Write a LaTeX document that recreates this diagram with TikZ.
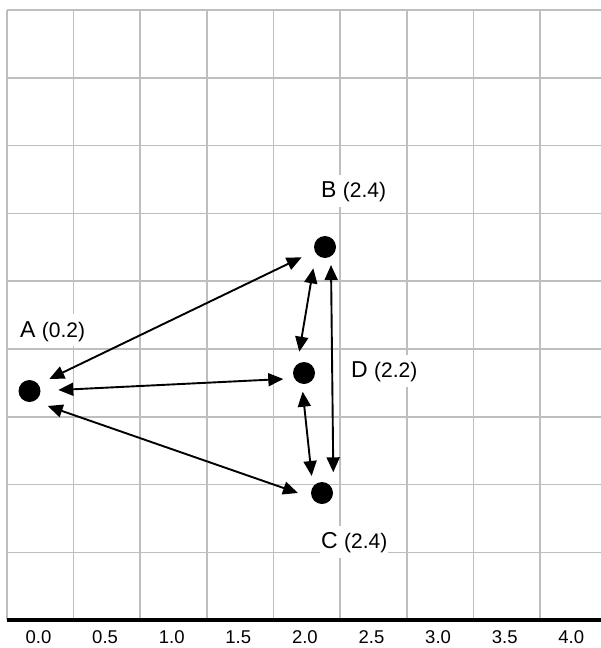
\documentclass[tikz,border=0pt]{standalone}
\usepackage{fontspec}
\setmainfont{Liberation Sans}
\usetikzlibrary{arrows.meta,calc}
\definecolor{gridgray}{RGB}{190,190,190}
\newcommand{\ptlabel}[2]{{\fontsize{23}{25}\selectfont #1\ }{\fontsize{21}{23}\selectfont (#2)}}
\tikzset{
  gridline/.style={draw=gridgray, line width=1.7pt},
  axisline/.style={draw=black, line width=3.5pt},
  dot/.style={circle, fill=black, inner sep=0pt, minimum size=22pt},
  lbl/.style={fill=white, inner xsep=1pt, inner ysep=1pt, text height=22pt, text depth=8pt, anchor=base west},
  axlabel/.style={anchor=base, inner sep=0pt, font=\fontsize{18.5}{20}\selectfont},
  link/.style={draw=black, line width=1.9pt, {Triangle[length=15pt,width=13pt]}-{Triangle[length=15pt,width=13pt]}}
}
\begin{document}
\begin{tikzpicture}[x=1pt, y=-1pt]
\useasboundingbox (0,0) rectangle (601,648);
\fill[white] (0,0) rectangle (601,648);
% grid
\foreach \i in {0,...,8}
  \draw[gridline] (6.7+66.67*\i,10) -- (6.7+66.67*\i,620);
\foreach \j in {0,...,8}
  \draw[gridline] (6.7,10+67.8*\j) -- (601,10+67.8*\j);
\draw[axisline] (6.7,620) -- (601,620);
% axis labels
\foreach \i/\t in {0/0.0,1/0.5,2/1.0,3/1.5,4/2.0,5/2.5,6/3.0,7/3.5,8/4.0}
  \node[axlabel] (ax\i) at (38.5+66.6*\i,643) {\t};
% point labels
\node[lbl] (LA) at (19,337) {\ptlabel{A}{0.2}};
\node[lbl] (LB) at (320,197.5) {\ptlabel{B}{2.4}};
\node[lbl] (LD) at (350,377.5) {\ptlabel{D}{2.2}};
\node[lbl] (LC) at (320,548.5) {\ptlabel{C}{2.4}};
% points
\node[dot] (A) at (29.5,391) {};
\node[dot] (B) at (325,247) {};
\node[dot] (D) at (304,373) {};
\node[dot] (C) at (322,493) {};
% connectors
\draw[link] ($(A)+(19.8,-12)$) -- ($(B)+(-23.3,10.3)$);
\draw[link] ($(A)+(28.8,-1)$) -- ($(D)+(-20.7,6)$);
\draw[link] ($(A)+(18.2,15)$) -- ($(C)+(-24,0)$);
\draw[link] ($(B)+(-11.7,21.3)$) -- ($(D)+(-4.7,-21.3)$);
\draw[link] ($(D)+(-1.3,18.7)$) -- ($(C)+(-10.3,-17)$);
\draw[link] ($(B)+(6,18)$) -- ($(C)+(11.3,-20.7)$);
\end{tikzpicture}
\end{document}
